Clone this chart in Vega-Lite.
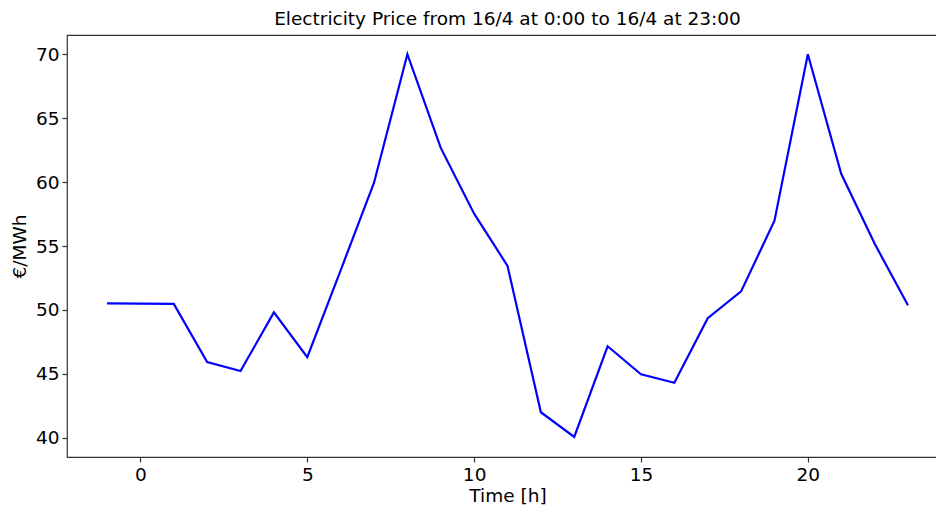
{
  "$schema": "https://vega.github.io/schema/vega-lite/v6.json",
  "autosize": {"type": "none"},
  "padding": {"left": 67, "top": 35, "right": 0, "bottom": 50},
  "width": 881,
  "height": 422,
  "background": "white",
  "title": {
    "text": "Electricity Price from 16/4 at 0:00 to 16/4 at 23:00",
    "font": "DejaVu Sans",
    "fontSize": 18.5,
    "fontWeight": "normal",
    "color": "black",
    "anchor": "middle",
    "offset": 7
  },
  "config": {
    "view": {"stroke": "#333333", "strokeWidth": 1.2},
    "axis": {
      "grid": false,
      "domain": false,
      "labelFont": "DejaVu Sans",
      "labelFontSize": 18.5,
      "labelColor": "black",
      "titleFont": "DejaVu Sans",
      "titleFontSize": 18.5,
      "titleFontWeight": "normal",
      "titleColor": "black",
      "tickColor": "#333333",
      "tickSize": 5,
      "tickWidth": 1.2
    }
  },
  "data": {
    "values": [
      {"hour": -1, "price": 50.51},
      {"hour": 0, "price": 50.5},
      {"hour": 1, "price": 50.47},
      {"hour": 2, "price": 45.92},
      {"hour": 3, "price": 45.22},
      {"hour": 4, "price": 49.81},
      {"hour": 5, "price": 46.31},
      {"hour": 6, "price": 53.1},
      {"hour": 7, "price": 59.95},
      {"hour": 8, "price": 70.0},
      {"hour": 9, "price": 62.67},
      {"hour": 10, "price": 57.53},
      {"hour": 11, "price": 53.45},
      {"hour": 12, "price": 42.0},
      {"hour": 13, "price": 40.07},
      {"hour": 14, "price": 47.16},
      {"hour": 15, "price": 44.97},
      {"hour": 16, "price": 44.3},
      {"hour": 17, "price": 49.35},
      {"hour": 18, "price": 51.45},
      {"hour": 19, "price": 56.98},
      {"hour": 20, "price": 70.0},
      {"hour": 21, "price": 60.65},
      {"hour": 22, "price": 55.19},
      {"hour": 23, "price": 50.36}
    ]
  },
  "mark": {"type": "line", "color": "#0000ff", "strokeWidth": 2.2},
  "encoding": {
    "x": {
      "field": "hour",
      "type": "quantitative",
      "scale": {"domain": [-2.2, 24.2], "nice": false, "zero": false},
      "axis": {"values": [0, 5, 10, 15, 20], "title": "Time [h]", "labelPadding": 3, "titlePadding": 3}
    },
    "y": {
      "field": "price",
      "type": "quantitative",
      "scale": {"domain": [38.5, 71.5], "nice": false, "zero": false},
      "axis": {"values": [40, 45, 50, 55, 60, 65, 70], "title": "€/MWh", "labelPadding": 3, "titlePadding": 6}
    }
  }
}
